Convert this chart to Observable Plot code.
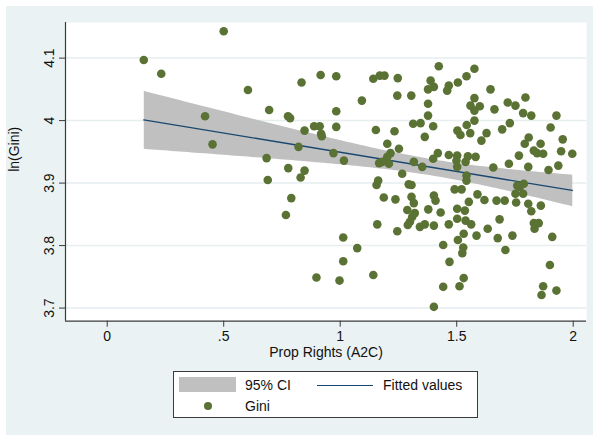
<!DOCTYPE html>
<html>
<head>
<meta charset="utf-8">
<script src="https://cdn.jsdelivr.net/npm/d3@7"></script>
<script src="https://cdn.jsdelivr.net/npm/@observablehq/plot@0.6"></script>
<style>
  body { margin: 0; background: #ffffff; font-family: "Liberation Sans", Arial, Helvetica, sans-serif; }
  #page { position: relative; width: 593px; height: 436px; overflow: hidden; }
  #region { position: absolute; left: 6px; top: 6px; width: 587px; height: 429px; background: #eaf2f3; }
  #chart { position: absolute; left: 0; top: 0; }
  #legend { position: absolute; left: 173px; top: 371px; width: 305px; height: 47px; background: #ffffff;
            border: 1px solid #3a3a3a; box-sizing: border-box; font-size: 14px; color: #111; }
  #legend .item { position: absolute; line-height: 16px; white-space: nowrap; }
</style>
</head>
<body>
<div id="page">
  <div id="region"></div>
  <div id="chart"></div>
  <div id="legend"></div>
</div>
<script>
// Property rights index (A2C) for each country
const propRights = [
  0.157, 0.232, 0.500, 0.604, 0.420, 0.452, 0.695, 0.684, 0.689, 0.776,
  0.785, 0.834, 0.916, 0.983, 0.983, 0.983, 0.888, 0.912, 0.847, 0.918,
  0.921, 0.821, 0.971, 1.016, 0.777, 0.847, 0.830, 0.790, 0.767, 1.013,
  1.142, 1.170, 1.093, 1.153, 1.167, 1.156, 1.163, 1.159, 1.073, 1.013,
  0.898, 0.997, 1.142, 1.190, 1.247, 1.423, 1.576, 1.542, 1.388, 1.377,
  1.402, 1.466, 1.459, 1.505, 1.245, 1.305, 1.377, 1.377, 1.313, 1.345,
  1.399, 1.363, 1.233, 1.202, 1.252, 1.216, 1.202, 1.209, 1.180, 1.316,
  1.352, 1.419, 1.399, 1.466, 1.502, 1.499, 1.502, 1.548, 1.538, 1.581,
  1.503, 1.516, 1.543, 1.558, 1.576, 1.559, 1.576, 1.576, 1.599, 1.606,
  1.266, 1.294, 1.306, 1.542, 1.542, 1.491, 1.521, 1.589, 1.187, 1.237,
  1.306, 1.316, 1.402, 1.409, 1.552, 1.288, 1.320, 1.378, 1.431, 1.502,
  1.535, 1.502, 1.538, 1.562, 1.309, 1.299, 1.290, 1.342, 1.363, 1.402,
  1.466, 1.245, 1.530, 1.505, 1.585, 1.442, 1.528, 1.524, 1.469, 1.530,
  1.442, 1.512, 1.402, 1.645, 1.662, 1.719, 1.752, 1.795, 1.785, 1.820,
  1.928, 1.903, 1.695, 1.728, 1.628, 1.809, 1.792, 1.860, 1.955, 1.831,
  1.845, 1.871, 1.948, 1.996, 1.767, 1.657, 1.724, 1.807, 1.894, 1.936,
  1.760, 1.788, 1.771, 1.752, 1.785, 1.619, 1.671, 1.706, 1.755, 1.807,
  1.861, 1.820, 1.684, 1.831, 1.852, 1.834, 1.633, 1.676, 1.739, 1.910,
  1.709, 1.900, 1.871, 1.928, 1.864
];

// Log of the Gini coefficient, same order
const lnGini = [
  4.097, 4.075, 4.143, 4.049, 4.007, 3.962, 4.017, 3.940, 3.905, 4.007,
  4.004, 4.061, 4.073, 4.071, 4.015, 3.990, 3.991, 3.991, 3.984, 3.979,
  3.975, 3.958, 3.948, 3.936, 3.924, 3.920, 3.909, 3.876, 3.849, 3.813,
  4.067, 4.072, 4.032, 3.985, 3.932, 3.897, 3.904, 3.834, 3.796, 3.775,
  3.749, 3.744, 3.753, 4.072, 4.068, 4.087, 4.083, 4.071, 4.064, 4.050,
  4.054, 4.056, 4.048, 4.061, 4.040, 4.040, 4.027, 4.008, 3.995, 3.996,
  3.991, 3.974, 3.983, 3.963, 3.955, 3.948, 3.942, 3.931, 3.934, 3.934,
  3.926, 3.948, 3.939, 3.945, 3.944, 3.936, 3.926, 3.943, 3.934, 3.942,
  3.984, 3.977, 3.993, 3.980, 4.000, 4.024, 4.036, 4.016, 4.023, 3.968,
  3.915, 3.898, 3.897, 3.912, 3.904, 3.890, 3.890, 3.882, 3.877, 3.874,
  3.878, 3.868, 3.880, 3.872, 3.870, 3.857, 3.852, 3.858, 3.853, 3.859,
  3.856, 3.843, 3.840, 3.834, 3.846, 3.838, 3.833, 3.830, 3.834, 3.832,
  3.834, 3.823, 3.819, 3.809, 3.816, 3.801, 3.797, 3.788, 3.774, 3.748,
  3.734, 3.735, 3.702, 4.050, 4.018, 4.029, 4.024, 4.037, 4.012, 4.008,
  4.008, 3.989, 3.986, 3.996, 3.980, 3.973, 3.963, 3.963, 3.970, 3.952,
  3.948, 3.947, 3.951, 3.947, 3.944, 3.925, 3.931, 3.926, 3.921, 3.928,
  3.896, 3.899, 3.894, 3.883, 3.883, 3.873, 3.872, 3.872, 3.869, 3.867,
  3.864, 3.855, 3.842, 3.836, 3.836, 3.827, 3.827, 3.812, 3.816, 3.814,
  3.793, 3.769, 3.735, 3.728, 3.721
];

// Axis ticks and their printed labels
const xTicks = [0, 0.5, 1, 1.5, 2];
const xTickLabels = ["0", ".5", "1", "1.5", "2"];
const yTicks = [3.7, 3.8, 3.9, 4, 4.1];
const yTickLabels = ["3.7", "3.8", "3.9", "4", "4.1"];

const xTitle = "Prop Rights (A2C)";
const yTitle = "ln(Gini)";
const legendLabels = ["95% CI", "Fitted values", "Gini"];

const colors = {
  dot: "#5a7233",
  fit: "#1a476f",
  band: "#c0c0c0",
  grid: "#e6eef0",
  axis: "#3a3a3a",
  text: "#111111"
};

const data = propRights.map((x, i) => ({x, y: lnGini[i]}));

const xDomain = [-0.179, 2.057];
const yDomain = [3.679, 4.157];

const W = 593, H = 362;
const chart = Plot.plot({
  width: W,
  height: H,
  marginLeft: 65,
  marginRight: 7,
  marginTop: 22,
  marginBottom: H - 320.7,
  style: {background: "transparent", fontFamily: "Liberation Sans, Arial, Helvetica, sans-serif", fontSize: "14px", color: colors.text},
  x: {domain: xDomain},
  y: {domain: yDomain},
  marks: [
    Plot.frame({fill: "white", stroke: "none"}),
    Plot.gridY(yTicks, {stroke: colors.grid, strokeOpacity: 1, strokeWidth: 1.5}),
    Plot.linearRegressionY(data, {x: "x", y: "y", ci: 0.95, stroke: colors.fit, strokeWidth: 1.3, fill: colors.band, fillOpacity: 1}),
    Plot.dot(data, {x: "x", y: "y", r: 4.3, fill: colors.dot, stroke: "none"}),
    Plot.ruleX([xDomain[0]], {stroke: colors.axis, strokeWidth: 1.2}),
    Plot.ruleY([yDomain[0]], {stroke: colors.axis, strokeWidth: 1.2}),
    Plot.axisX(xTicks, {tickSize: 6, tickPadding: 4, stroke: colors.axis, tickFormat: d => xTickLabels[xTicks.indexOf(d)], label: null}),
    Plot.axisY(yTicks, {tickSize: 6, tickPadding: 6, tickRotate: -90, stroke: colors.axis, tickFormat: d => yTickLabels[yTicks.indexOf(d)], label: null}),
    Plot.text([xTitle], {frameAnchor: "bottom", dy: 35.5, text: d => d, fontSize: 14}),
    Plot.text([yTitle], {frameAnchor: "left", dx: -51, rotate: -90, text: d => d, fontSize: 14})
  ]
});
document.getElementById("chart").append(chart);

// Legend: CI swatch, fitted line, scatter marker
const legend = document.getElementById("legend");
function add(html, style) {
  const el = document.createElement("div");
  el.className = "item";
  Object.assign(el.style, style);
  el.innerHTML = html;
  legend.append(el);
}
add("", {left: "5px", top: "5px", width: "57px", height: "15px", background: colors.band});
add(legendLabels[0], {left: "71px", top: "5px"});
add("", {left: "143px", top: "12.5px", width: "56px", height: "1.3px", background: colors.fit});
add(legendLabels[1], {left: "209px", top: "5px"});
add("", {left: "29.5px", top: "29.5px", width: "8.6px", height: "8.6px", borderRadius: "50%", background: colors.dot});
add(legendLabels[2], {left: "71px", top: "26px"});
</script>
</body>
</html>
